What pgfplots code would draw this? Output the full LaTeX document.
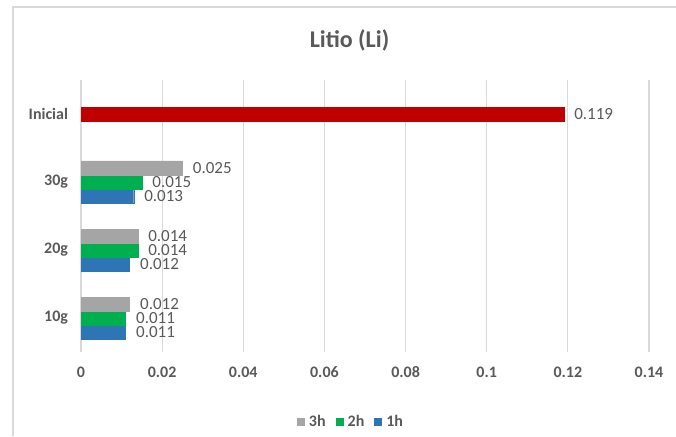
\documentclass[border=0pt]{standalone}
\usepackage{fontspec}
\setmainfont{Carlito}
\usepackage{pgfplots}
\pgfplotsset{compat=1.18}
\definecolor{txt}{HTML}{595959}
\definecolor{c1}{HTML}{2E75B6}
\definecolor{c2}{HTML}{00B050}
\definecolor{c3}{HTML}{A5A5A5}
\definecolor{cr}{HTML}{C00000}
\definecolor{gridc}{HTML}{D9D9D9}
\begin{document}
\begin{tikzpicture}[x=1pt,y=1pt]
\path[use as bounding box] (0,0) rectangle (676,436);
\draw[gridc, line width=1.2pt] (13,0) -- (13,429) -- (676,429);
\begin{axis}[at={(81pt,84pt)}, anchor=south west, scale only axis,
  width=568pt, height=272pt,
  xmin=0, xmax=0.14, ymin=-0.5, ymax=3.5,
  xbar, bar width=14pt,
  xtick={0,0.02,0.04,0.06,0.08,0.1,0.12,0.14},
  xticklabels={0,0.02,0.04,0.06,0.08,0.1,0.12,0.14},
  ytick={0,1,2,3}, yticklabels={10g,20g,30g,Inicial},
  xmajorgrids, major grid style={gridc, line width=1.1pt},
  axis line style={draw=none}, major tick length=0pt,
  ticklabel style={font=\fontsize{16}{18}\selectfont\bfseries, text=txt},
  xticklabel style={yshift=-11pt},
  yticklabel style={xshift=-9.5pt},
  /pgf/number format/assume math mode=true,
  point meta=x,
  nodes near coords={\pgfmathprintnumber[fixed,precision=3]{\pgfplotspointmeta}},
  every node near coord/.append style={anchor=west, xshift=7pt, inner ysep=0pt, font=\fontsize{17}{19}\selectfont, text=txt},
  legend columns=3, reverse legend,
  legend style={at={(axis description cs:0.4754,-0.257)}, anchor=center, draw=none,
    font=\fontsize{16}{18}\selectfont\bfseries, text=txt, inner sep=0pt,
    /tikz/every odd column/.append style={column sep=2pt},
    /tikz/every even column/.append style={column sep=8pt}},
  legend image code/.code={\path[#1,draw=none] (0pt,-4pt) rectangle (8pt,4pt);},
]
\addplot[fill=c1, draw=c1, bar shift=-14pt] coordinates {(0.011,0) (0.012,1) (0.013,2)};
\addplot[fill=c2, draw=c2, bar shift=0pt] coordinates {(0.011,0) (0.014,1) (0.015,2)};
\addplot[fill=c3, draw=c3, bar shift=14pt] coordinates {(0.012,0) (0.014,1) (0.025,2)};
\addplot[fill=cr, draw=cr, bar shift=0pt, forget plot] coordinates {(0.119,3)};
\legend{1h,2h,3h}
\end{axis}
\node[font=\fontsize{24}{28}\selectfont\bfseries, text=txt] at (349.5,396) {Litio (Li)};
\end{tikzpicture}
\end{document}
